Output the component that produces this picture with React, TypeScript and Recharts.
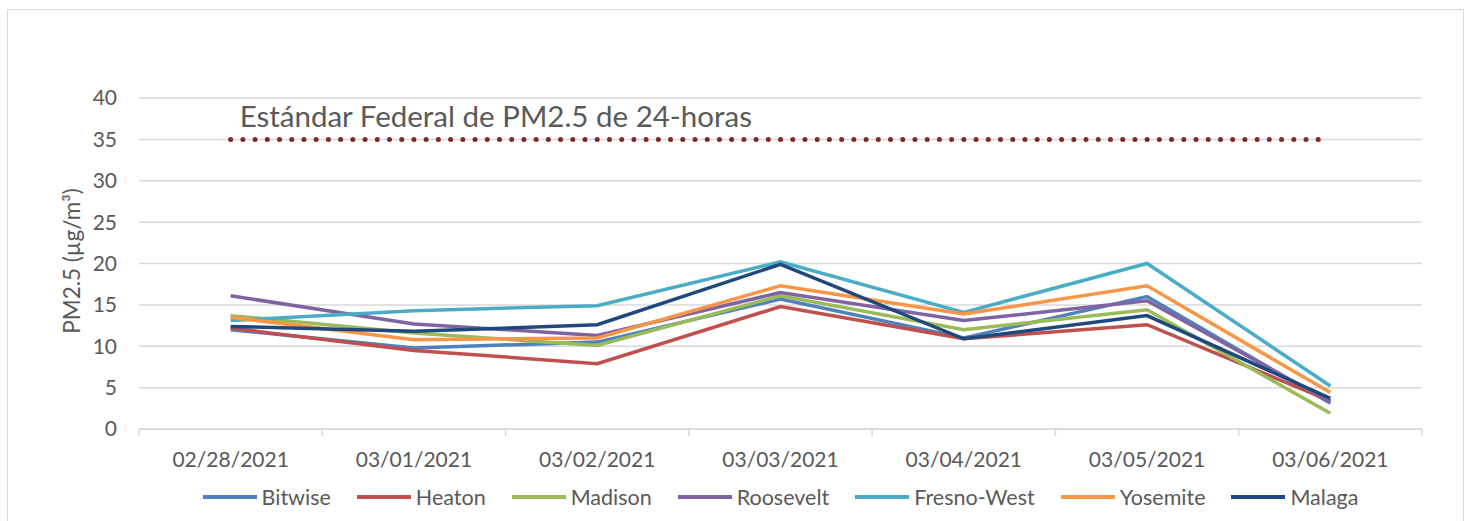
import { LineChart, Line, XAxis, YAxis, CartesianGrid, Legend } from 'recharts';

const dates = ['02/28/2021', '03/01/2021', '03/02/2021', '03/03/2021', '03/04/2021', '03/05/2021', '03/06/2021'];
const bitwise = [12.0, 9.8, 10.5, 15.7, 11.0, 16.0, 3.1];
const heaton = [12.2, 9.5, 7.9, 14.8, 10.9, 12.6, 3.4];
const madison = [13.7, 11.6, 10.1, 16.1, 12.0, 14.4, 1.9];
const roosevelt = [16.1, 12.7, 11.3, 16.5, 13.1, 15.5, 3.3];
const fresnoWest = [13.1, 14.3, 14.9, 20.2, 14.1, 20.0, 5.2];
const yosemite = [13.5, 10.8, 11.0, 17.3, 13.9, 17.3, 4.4];
const malaga = [12.4, 11.8, 12.6, 19.9, 10.9, 13.7, 3.7];
const standard = [35, 35, 35, 35, 35, 35, 35];
const yTicks = [0, 5, 10, 15, 20, 25, 30, 35, 40];
const standardLabel = 'Estándar Federal de PM2.5 de 24-horas';

const series = [
  { key: 'Bitwise', values: bitwise, color: '#4F81BD' },
  { key: 'Heaton', values: heaton, color: '#C0504D' },
  { key: 'Madison', values: madison, color: '#9BBB59' },
  { key: 'Roosevelt', values: roosevelt, color: '#8064A2' },
  { key: 'Fresno-West', values: fresnoWest, color: '#4BACC6' },
  { key: 'Yosemite', values: yosemite, color: '#F79646' },
  { key: 'Malaga', values: malaga, color: '#1F497D' },
];

const data = dates.map((d, i) => {
  const row: Record<string, string | number> = { date: d, standard: standard[i] };
  series.forEach(s => {
    row[s.key] = s.values[i];
  });
  return row;
});

const FONT = 'Lato, "Open Sans", sans-serif';
const TEXT = '#595959';
const GRID = '#d9d9d9';
const PLOT_W = 1283;
const STEP = PLOT_W / dates.length;

const DateTick = (props: any) => {
  const { x, y, payload, index } = props;
  const last = index === dates.length - 1;
  return (
    <g>
      <line x1={x - STEP / 2} x2={x - STEP / 2} y1={y} y2={y + 7} stroke={GRID} strokeWidth={1.5} />
      {last && <line x1={x + STEP / 2} x2={x + STEP / 2} y1={y} y2={y + 7} stroke={GRID} strokeWidth={1.5} />}
      <text x={x} y={y + 38} textAnchor="middle" fill={TEXT} fontSize={21} fontFamily={FONT}>
        {payload.value}
      </text>
    </g>
  );
};

const renderStandardLabel = (props: any) => {
  const { x, y, index } = props;
  if (index !== 0) return null;
  return (
    <text key="std-label" x={x + 9} y={y - 12} fill={TEXT} fontSize={29.5} fontFamily={FONT}>
      {standardLabel}
    </text>
  );
};

const renderLegend = () => (
  <div style={{ display: 'flex', justifyContent: 'center', fontFamily: FONT, fontSize: 21.5, color: TEXT }}>
    {series.map((s, i) => (
      <div key={s.key} style={{ display: 'flex', alignItems: 'center', marginRight: i === series.length - 1 ? 0 : 26 }}>
        <span style={{ display: 'inline-block', width: 54, height: 4, background: s.color, marginRight: 5 }} />
        <span>{s.key}</span>
      </div>
    ))}
  </div>
);

const App = () => {
  return (
    <div style={{ position: 'fixed', left: 0, top: 0, width: 1467, height: 521, background: '#fff', overflow: 'hidden' }}>
      <div
        style={{
          position: 'absolute',
          left: 7,
          top: 9,
          width: 1455,
          height: 520,
          border: `1.5px solid ${GRID}`,
          borderBottom: 'none',
        }}
      />
      <LineChart width={1467} height={521} data={data} margin={{ top: 98, right: 45, left: 0, bottom: 0 }}>
        <CartesianGrid vertical={false} stroke={GRID} strokeWidth={1.5} />
        <XAxis
          dataKey="date"
          height={92}
          interval={0}
          padding={{ left: STEP / 2, right: STEP / 2 }}
          axisLine={{ stroke: GRID, strokeWidth: 1.5 }}
          tickLine={false}
          tickSize={0}
          tickMargin={0}
          tick={<DateTick />}
        />
        <YAxis
          width={139}
          domain={[0, 40]}
          ticks={yTicks}
          axisLine={false}
          tickLine={false}
          tickSize={0}
          tickMargin={22}
          tick={{ fill: TEXT, fontSize: 21, fontFamily: FONT }}
          label={{
            content: () => (
              <text
                x={71}
                y={261}
                transform="rotate(-90 71 261)"
                textAnchor="middle"
                dominantBaseline="central"
                fill={TEXT}
                fontSize={22.5}
                fontFamily={FONT}
              >
                PM2.5 (µg/m³)
              </text>
            ),
          }}
        />
        <Legend
          layout="horizontal"
          verticalAlign="middle"
          align="center"
          wrapperStyle={{ top: 484, left: 139, width: PLOT_W }}
          content={renderLegend}
        />
        <Line
          dataKey="standard"
          stroke="#7F2A2A"
          strokeWidth={5}
          strokeDasharray="0 12.22"
          strokeLinecap="round"
          dot={false}
          activeDot={false}
          legendType="none"
          isAnimationActive={false}
          label={renderStandardLabel}
        />
        {series.map(s => (
          <Line
            key={s.key}
            dataKey={s.key}
            stroke={s.color}
            strokeWidth={3.5}
            dot={false}
            activeDot={false}
            isAnimationActive={false}
          />
        ))}
      </LineChart>
    </div>
  );
};

export default App;
